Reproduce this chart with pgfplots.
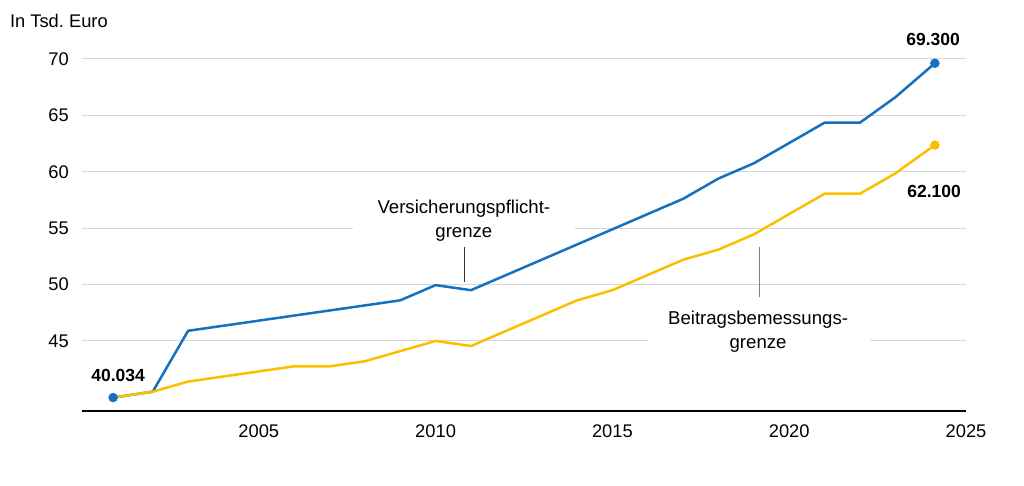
\documentclass[border=0pt]{standalone}
\usepackage{fontspec}
\setmainfont{Liberation Sans}
\usepackage{pgfplots}
\pgfplotsset{compat=1.18}
\definecolor{vpgblue}{RGB}{21,112,190}
\definecolor{bbgyellow}{RGB}{250,192,0}
\definecolor{gridgray}{RGB}{215,215,215}
\frenchspacing
\begin{document}
\begin{tikzpicture}
\useasboundingbox (-82bp,-75bp) rectangle (942bp,411bp);
\begin{axis}[
  scale only axis,
  width=884bp, height=374.6bp,
  xmin=2000, xmax=2025,
  ymin=38.79, ymax=72,
  clip=false,
  axis x line=bottom, axis y line=left,
  axis line style={-},
  x axis line style={black, line width=1.5bp},
  y axis line style={draw=none},
  major tick length=0pt,
  xtick={2005,2010,2015,2020,2025},
  xticklabels={2005,2010,2015,2020,2025},
  ytick={45,50,55,60,65,70},
  yticklabels={45,50,55,60,65,70},
  ymajorgrids,
  grid style={gridgray, line width=1bp},
  tick label style={font=\fontsize{18.3bp}{22bp}\selectfont, inner sep=0pt},
  xticklabel style={anchor=north, yshift=-14bp},
  yticklabel style={anchor=east, xshift=-13bp},
]
% white boxes behind the two series labels
\fill[white] (axis cs:2007.66,57.85) rectangle (axis cs:2013.94,53.95);
\fill[white] (axis cs:2016.0,47.74) rectangle (axis cs:2022.28,43.75);
% Versicherungspflichtgrenze
\addplot[vpgblue, line width=2.5bp] coordinates {
  (2000.88,39.98) (2002,40.5) (2003,45.9) (2004,46.35) (2005,46.8) (2006,47.25)
  (2007,47.7) (2008,48.15) (2009,48.6) (2010,49.95) (2011,49.5) (2012,50.85)
  (2013,52.2) (2014,53.55) (2015,54.9) (2016,56.25) (2017,57.6) (2018,59.4)
  (2019,60.75) (2020,62.55) (2021,64.35) (2022,64.35) (2023,66.6) (2024.12,69.62)};
% Beitragsbemessungsgrenze
\addplot[bbgyellow, line width=2.5bp] coordinates {
  (2000.88,39.98) (2002,40.5) (2003,41.4) (2004,41.85) (2005,42.3) (2006,42.75)
  (2007,42.75) (2008,43.2) (2009,44.1) (2010,45.0) (2011,44.55) (2012,45.9)
  (2013,47.25) (2014,48.6) (2015,49.5) (2016,50.85) (2017,52.2) (2018,53.1)
  (2019,54.45) (2020,56.25) (2021,58.05) (2022,58.05) (2023,59.85) (2024.12,62.37)};
% end points
\addplot[only marks, mark=*, mark size=4.5bp, color=vpgblue] coordinates {(2000.88,39.98) (2024.12,69.62)};
\addplot[only marks, mark=*, mark size=4.5bp, color=bbgyellow] coordinates {(2024.12,62.37)};
% labels
\node[font=\fontsize{17.5bp}{20bp}\selectfont\bfseries] at (axis cs:2001.02,41.98) {40.034};
\node[font=\fontsize{17.5bp}{20bp}\selectfont\bfseries] at (axis cs:2024.07,71.77) {69.300};
\node[font=\fontsize{17.5bp}{20bp}\selectfont\bfseries] at (axis cs:2024.1,58.29) {62.100};
\node[font=\fontsize{18.6bp}{24bp}\selectfont, align=center, inner sep=0pt] at (axis cs:2010.8,55.63) {Versicherungspflicht-\\grenze};
\draw[black!80, line width=1bp] (axis cs:2010.83,53.33) -- (axis cs:2010.83,50.23);
\node[font=\fontsize{18.6bp}{24bp}\selectfont, align=center, inner sep=0pt] at (axis cs:2019.12,45.84) {Beitragsbemessungs-\\grenze};
\draw[black!50, line width=1bp] (axis cs:2019.15,53.33) -- (axis cs:2019.15,48.9);
\node[font=\fontsize{18.3bp}{22bp}\selectfont, anchor=west, inner sep=0pt] at (axis cs:1997.96,73.36) {In Tsd. Euro};
\end{axis}
\end{tikzpicture}
\end{document}
